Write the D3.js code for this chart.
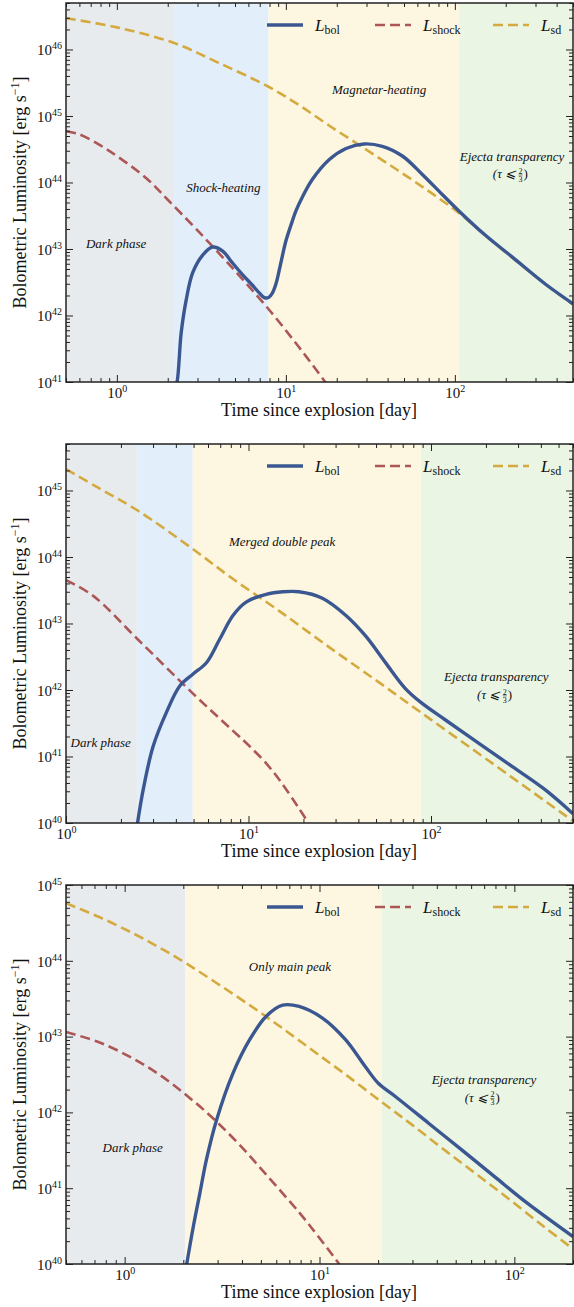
<!DOCTYPE html>
<html>
<head>
<meta charset="utf-8">
<script src="https://cdn.jsdelivr.net/npm/d3@7"></script>
<style>
  body { margin: 0; background: #fff; }
  svg { display: block; }
  text { font-family: "Liberation Serif", "Times New Roman", "DejaVu Serif", serif; fill: #111; }
</style>
</head>
<body>
<div id="vis"></div>
<script>
// ---- data: [time in days, luminosity in erg/s] ----

// panel 1
const bol1 = [[2.2,8e40],[2.27,1.0e41],[2.40,5.4e41],[2.57,1.7e42],[2.81,4.4e42],[3.22,8.1e42],[3.69,1.07e43],[4.23,9.3e42],
  [4.8,6.3e42],[5.5,4.2e42],[6.3,2.9e42],[7.0,2.15e42],[7.45,1.86e42],[7.9,1.86e42],[8.3,2.15e42],[8.74,3.0e42],
  [9.2,5.2e42],[9.6,8.5e42],[10.0,1.32e43],[10.9,2.6e43],[11.5,3.8e43],[12.5,6.0e43],[14.3,1.1e44],[18.0,2.2e44],
  [22.7,3.25e44],[29.0,3.8e44],[37.2,3.5e44],[48.9,2.5e44],[64.2,1.32e44],[84.2,6.6e43],[106,3.7e43],[151,1.62e43],
  [218,7.6e42],[344,2.95e42],[500,1.5e42]];
const shock1 = [[0.5,5.9e44],[0.6,5.3e44],[0.8,3.6e44],[1.0,2.5e44],[1.5,1.15e44],[2.0,5.5e43],[3.0,1.9e43],
  [5.0,4.7e42],[8.0,1.2e42],[12,3.3e41],[17,1.02e41],[20,5.8e40]];
const sd1 = [[0.5,2.95e46],[1.0,2.15e46],[2.16,1.26e46],[4.0,6.3e45],[7.9,2.75e45],[12,1.45e45],[18,7.2e44],
  [28.4,3.4e44],[45,1.58e44],[70,7.4e43],[106,3.45e43],[160,1.42e43],[250,5.6e42],[350,2.85e42],[500,1.45e42]];
const phases1 = [[0.5,2.18,'dark'],[2.18,7.9,'shock'],[7.9,106,'mag'],[106,500,'thin']];

// panel 2
const bol2 = [[2.45,8.9e39],[2.65,3.2e40],[3.0,1.41e41],[3.55,4.6e41],[4.2,1.15e42],[4.97,1.74e42],[5.88,2.57e42],
  [6.95,5.8e42],[8.22,1.32e43],[9.7,2.1e43],[12.5,2.75e43],[15.4,3.0e43],[18.9,3.0e43],[25.4,2.4e43],[34.2,1.32e43],
  [43.8,6.5e42],[56.2,2.6e42],[72.4,1.05e42],[88,6.5e41],[119,3.6e41],[183,1.58e41],[278,7.1e40],[420,3.2e40],[600,1.38e40]];
const shock2 = [[1,4.5e43],[1.41,2.6e43],[2.47,5.8e42],[4.95,8.9e41],[8.2,2.45e41],[10,1.48e41],[12.5,7.9e40],
  [15,4.2e40],[18.9,1.66e40],[22,8.7e39]];
const sd2 = [[1,2.1e45],[1.5,1.1e45],[2.47,5.0e44],[4.95,1.32e44],[8.2,4.7e43],[14.7,1.55e43],[28,4.3e42],
  [51.9,1.3e42],[88,4.6e41],[183,1.1e41],[600,1.07e40]];
const phases2 = [[1,2.47,'dark'],[2.47,4.95,'shock'],[4.95,88,'mag'],[88,600,'thin']];

// panel 3
const bol3 = [[2.05,7.9e39],[2.25,3.1e40],[2.43,8.5e40],[2.63,2.4e41],[2.96,7.9e41],[3.6,3.3e42],[4.38,9.1e42],
  [5.33,1.86e43],[6.47,2.6e43],[7.86,2.5e43],[10.4,1.74e43],[13.6,9.1e42],[17.2,4.0e42],[20.1,2.4e42],[24.5,1.62e42],
  [36.3,7.2e41],[53.7,3.2e41],[79.4,1.41e41],[117,6.3e40],[200,2.3e40]];
const shock3 = [[0.5,1.15e43],[0.75,8.3e42],[1.11,5.1e42],[1.52,3.1e42],[2.09,1.66e42],[2.85,8.3e41],[3.9,3.7e41],
  [5.33,1.51e41],[7.86,4.8e40],[9.2,2.9e40],[12.6,1.0e40],[13.5,7.6e39]];
const sd3 = [[0.5,5.75e44],[0.75,3.72e44],[1.11,2.29e44],[1.52,1.48e44],[2.09,9.1e43],[2.96,5.1e43],[4.38,2.6e43],
  [6.22,1.38e43],[9.2,6.6e42],[13.6,3.16e42],[21,1.35e42],[30,6.8e41],[44,3.16e41],[65,1.48e41],[96.5,6.8e40],
  [142,3.1e40],[200,1.58e40]];
const phases3 = [[0.5,2.05,'dark'],[2.05,20.8,'mag'],[20.8,200,'thin']];

// axis ranges
const xDomains = [[0.5, 500], [1, 600], [0.5, 200]];
const yDomains = [[1e41, 5e46], [1e40, 5e45], [1e40, 1e45]];

// text labels: [text, t, L]
const notes1 = [['Dark phase',0.99,1.2e43],['Shock-heating',4.27,8.3e43],['Magnetar-heating',35.6,2.5e45],['Ejecta transparency',218,2.5e44]];
const notes2 = [['Merged double peak',15.3,1.7e44],['Dark phase',1.55,1.6e41],['Ejecta transparency',228,1.62e42]];
const notes3 = [['Only main peak',7.05,8.3e43],['Dark phase',1.1,3.4e41],['Ejecta transparency',69.8,2.75e42]];
const tauPos = [[218,1.35e44],[228,8.5e41],[69.8,1.58e42]];

const legendNames = [['L','bol'],['L','shock'],['L','sd']];

// ---- layout ----
const W = 574, H = 1307;
const left = 66, right = 573;
const tops = [3, 444, 885];
const ph = 379;
const colors = {bol: '#3b5791', shock: '#ad5656', sd: '#d4aa3f'};
const bandFill = {dark: '#e8ebee', shock: '#e2eef9', mag: '#fdf7e1', thin: '#eaf5e4'};
const serif = '"Liberation Serif", "Times New Roman", serif';

const svg = d3.select('#vis').append('svg')
  .attr('width', W).attr('height', H)
  .attr('font-family', serif);

const panels = [
  {bol: bol1, shock: shock1, sd: sd1, phases: phases1, notes: notes1},
  {bol: bol2, shock: shock2, sd: sd2, phases: phases2, notes: notes2},
  {bol: bol3, shock: shock3, sd: sd3, phases: phases3, notes: notes3}
];

function minorTicks(domain) {
  const out = [];
  const lo = Math.floor(Math.log10(domain[0])), hi = Math.ceil(Math.log10(domain[1]));
  for (let e = lo; e <= hi; e++) {
    for (let m = 2; m <= 9; m++) {
      const v = m * Math.pow(10, e);
      if (v >= domain[0] && v <= domain[1]) out.push(v);
    }
  }
  return out;
}
function majorTicks(domain) {
  const out = [];
  const lo = Math.ceil(Math.log10(domain[0]) - 1e-9), hi = Math.floor(Math.log10(domain[1]) + 1e-9);
  for (let e = lo; e <= hi; e++) out.push(Math.pow(10, e));
  return out;
}
// write 10^n with a raised exponent
function powLabel(sel) {
  sel.each(function(d) {
    const t = d3.select(this);
    const e = Math.round(Math.log10(d));
    t.text(null);
    t.append('tspan').text('10');
    t.append('tspan').attr('dy', -6).attr('font-size', 10).text(e);
  });
}

panels.forEach((p, i) => {
  const top = tops[i];
  const x = d3.scaleLog().domain(xDomains[i]).range([left, right]);
  const y = d3.scaleLog().domain(yDomains[i]).range([top + ph, top]);
  const g = svg.append('g');

  g.append('clipPath').attr('id', 'clip' + i)
    .append('rect').attr('x', left).attr('y', top).attr('width', right - left).attr('height', ph);

  // phase bands
  g.selectAll('.band').data(p.phases).join('rect')
    .attr('class', 'band')
    .attr('x', d => x(d[0])).attr('width', d => x(d[1]) - x(d[0]))
    .attr('y', top).attr('height', ph)
    .attr('fill', d => bandFill[d[2]]);

  // annotations
  g.selectAll('.note').data(p.notes).join('text')
    .attr('class', 'note')
    .attr('x', d => x(d[1])).attr('y', d => y(d[2]) + 4.5)
    .attr('text-anchor', 'middle')
    .attr('font-style', 'italic').attr('font-size', 13)
    .text(d => d[0]);
  const tp = tauPos[i];
  const tg = g.append('g').attr('transform', `translate(${x(tp[0])},${y(tp[1]) + 4.5})`)
    .attr('font-size', 13).attr('font-style', 'italic');
  tg.append('text').attr('x', 4).attr('text-anchor', 'end').text('(τ ⩽');
  tg.append('text').attr('x', 8.5).attr('y', -4.5).attr('text-anchor', 'middle').attr('font-size', 8).attr('font-style', 'normal').text('2');
  tg.append('line').attr('x1', 6.5).attr('x2', 10.5).attr('y1', -3.3).attr('y2', -3.3).attr('stroke', '#111').attr('stroke-width', 0.5);
  tg.append('text').attr('x', 8.5).attr('y', 3.5).attr('text-anchor', 'middle').attr('font-size', 8).attr('font-style', 'normal').text('3');
  tg.append('text').attr('x', 11.5).attr('font-style', 'normal').text(')');

  // curves
  const line = d3.line().x(d => x(d[0])).y(d => y(d[1])).curve(d3.curveCatmullRom.alpha(0.5));
  const cg = g.append('g').attr('clip-path', `url(#clip${i})`);
  cg.append('path').datum(p.sd).attr('d', line).attr('fill', 'none')
    .attr('stroke', colors.sd).attr('stroke-width', 2.6).attr('stroke-dasharray', '10,5');
  cg.append('path').datum(p.shock).attr('d', line).attr('fill', 'none')
    .attr('stroke', colors.shock).attr('stroke-width', 2.6).attr('stroke-dasharray', '10,5');
  cg.append('path').datum(p.bol).attr('d', line).attr('fill', 'none')
    .attr('stroke', colors.bol).attr('stroke-width', 3.4);

  // axes, ticks pointing inward on all four sides
  const xMaj = majorTicks(xDomains[i]), xMin = minorTicks(xDomains[i]);
  const yMaj = majorTicks(yDomains[i]), yMin = minorTicks(yDomains[i]);

  const bottomAx = g.append('g').attr('transform', `translate(0,${top + ph})`)
    .call(d3.axisBottom(x).tickValues(xMaj).tickSize(-7).tickPadding(5));
  bottomAx.selectAll('text').call(powLabel).attr('font-size', 15).attr('dy', '0.74em');
  g.append('g').attr('transform', `translate(0,${top + ph})`)
    .call(d3.axisBottom(x).tickValues(xMin).tickSize(-4).tickFormat(''));
  g.append('g').attr('transform', `translate(0,${top})`)
    .call(d3.axisTop(x).tickValues(xMaj).tickSize(-7).tickFormat(''));
  g.append('g').attr('transform', `translate(0,${top})`)
    .call(d3.axisTop(x).tickValues(xMin).tickSize(-4).tickFormat(''));

  const leftAx = g.append('g').attr('transform', `translate(${left},0)`)
    .call(d3.axisLeft(y).tickValues(yMaj).tickSize(-7).tickPadding(4));
  leftAx.selectAll('text').call(powLabel).attr('font-size', 15).attr('dy', '0.35em');
  g.append('g').attr('transform', `translate(${left},0)`)
    .call(d3.axisLeft(y).tickValues(yMin).tickSize(-4).tickFormat(''));
  g.append('g').attr('transform', `translate(${right},0)`)
    .call(d3.axisRight(y).tickValues(yMaj).tickSize(-7).tickFormat(''));
  g.append('g').attr('transform', `translate(${right},0)`)
    .call(d3.axisRight(y).tickValues(yMin).tickSize(-4).tickFormat(''));

  g.selectAll('.domain').remove();
  g.selectAll('.tick line').attr('stroke', '#222').attr('stroke-width', 1);
  g.selectAll('.tick text').attr('fill', '#111').attr('font-family', serif);

  g.append('rect').attr('x', left).attr('y', top).attr('width', right - left).attr('height', ph)
    .attr('fill', 'none').attr('stroke', '#222').attr('stroke-width', 1.5);

  // axis titles
  g.append('text').attr('x', (left + right) / 2 - 0.5).attr('y', top + ph + 34)
    .attr('text-anchor', 'middle').attr('font-size', 18)
    .text('Time since explosion [day]');
  const yl = g.append('text')
    .attr('transform', `translate(26,${top + ph / 2}) rotate(-90)`)
    .attr('text-anchor', 'middle').attr('font-size', 18);
  yl.append('tspan').text('Bolometric Luminosity [erg s');
  yl.append('tspan').attr('dy', -7).attr('font-size', 12).text('−1');
  yl.append('tspan').attr('dy', 7).text(']');

  // legend
  const ly = top + 22;
  const legendItems = [
    {x0: left + 201, key: 'bol', dash: null, w: 3.4},
    {x0: left + 309, key: 'shock', dash: '10,5', w: 2.6},
    {x0: left + 427, key: 'sd', dash: '10,5', w: 2.6}
  ];
  legendItems.forEach((it, k) => {
    g.append('line').attr('x1', it.x0).attr('x2', it.x0 + 36).attr('y1', ly).attr('y2', ly)
      .attr('stroke', colors[it.key]).attr('stroke-width', it.w)
      .attr('stroke-dasharray', it.dash);
    const t = g.append('text').attr('x', it.x0 + 48).attr('y', ly + 6).attr('font-size', 17);
    t.append('tspan').attr('font-style', 'italic').text(legendNames[k][0]);
    t.append('tspan').attr('dy', 3).attr('font-size', 12).text(legendNames[k][1]);
  });
});
</script>
</body>
</html>
